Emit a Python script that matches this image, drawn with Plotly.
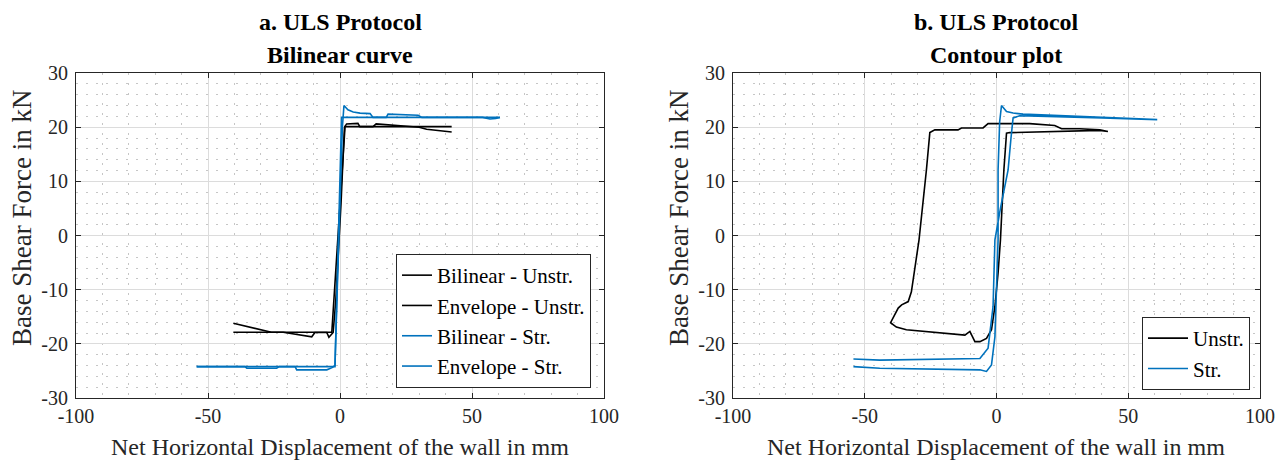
import plotly.graph_objects as go

# ---------------- data ----------------
x_ticks = [-100, -50, 0, 50, 100]
x_tick_labels = ["-100", "-50", "0", "50", "100"]
y_ticks = [-30, -20, -10, 0, 10, 20, 30]
y_tick_labels = ["-30", "-20", "-10", "0", "10", "20", "30"]

# (a) Bilinear curves
bil_unstr_x = [-40.4, -3.1, 1.9, 42.3]
bil_unstr_y = [-17.85, -17.85, 20.1, 20.1]
bil_str_x = [-54.3, -1.9, 0.6, 60.6]
bil_str_y = [-24.2, -24.2, 21.8, 21.8]

# (a) Envelopes
env_unstr_x = [-40.4, -29.0, -26.0, -21.5, -10.7, -9.5, -5.0, -4.2, -2.6, -1.6, -0.6, 0.4, 1.3, 1.7, 2.5, 6.8, 7.5, 12.5, 13.7, 25.1, 30.0, 32.8, 42.3]
env_unstr_y = [-16.2, -17.4, -17.85, -17.85, -18.7, -17.9, -17.9, -18.8, -17.9, -12.0, -4.0, 6.0, 16.0, 20.0, 20.6, 20.7, 20.1, 20.1, 20.6, 20.1, 20.0, 19.6, 19.1]
env_str_x = [-54.3, -36.0, -35.3, -24.0, -23.0, -17.0, -16.4, -5.0, -3.0, -1.9, -1.3, -0.5, 0.3, 0.9, 1.5, 3.0, 5.0, 7.6, 11.4, 12.5, 17.5, 18.2, 29.6, 31.0, 54.0, 56.8, 59.0, 60.6]
env_str_y = [-24.2, -24.2, -24.5, -24.5, -24.2, -24.2, -24.8, -24.8, -24.4, -24.0, -14.0, -2.0, 10.0, 20.0, 24.0, 23.2, 22.8, 22.6, 22.5, 21.8, 21.8, 22.4, 22.2, 21.8, 21.8, 21.5, 21.6, 21.8]

# (b) Contour plots
cont_unstr_x = [42.3, 39.2, 31.6, 24.7, 22.1, 15.2, 12.6, -3.2, -5.1, -13.3, -14.6, -23.4, -25.3, -26.6, -29.4, -32.3, -33.5, -36.0, -37.3, -40.2,
                -38.0, -34.2, -24.1, -12.0, -10.1, -8.2, -6.3, -3.8, -1.9, -0.6, 0.6, 1.5, 2.8, 3.8, 5.0, 39.2, 42.3]
cont_unstr_y = [19.2, 19.5, 19.7, 19.7, 20.3, 20.5, 20.65, 20.65, 19.85, 19.85, 19.5, 19.5, 19.0, 12.1, -0.8, -10.4, -12.2, -12.8, -13.4, -16.1,
                -16.9, -17.4, -17.9, -18.4, -17.7, -19.6, -19.6, -19.0, -17.4, -13.1, -6.9, -0.8, 12.1, 18.9, 19.0, 19.4, 19.2]
cont_str_x = [-54.3, -44.3, -6.3, -3.2, -1.3, -0.6, 1.5, 4.4, 5.5, 6.3, 8.8, 20.0, 40.0, 61.0,
              40.0, 20.0, 10.0, 6.3, 3.8, 1.9, 1.2, 0.6, 0.6, -0.6, -1.9, -3.8, -6.3, -44.3, -54.3]
cont_str_y = [-22.8, -23.0, -22.7, -20.8, -13.1, -0.8, 5.0, 12.1, 18.0, 21.7, 22.1, 22.0, 21.7, 21.4,
              21.8, 22.2, 22.4, 22.6, 22.9, 24.0, 21.0, 12.1, -0.8, -18.7, -23.9, -25.1, -24.8, -24.5, -24.2]

# ---------------- style ----------------
W, H = 1279, 460
FONT = "Liberation Serif, Times New Roman, serif"
BLACK = "#000000"
BLUE = "#0072BD"
AX = "#262626"

fig = go.Figure()

def line(x, y, name, color, xa, ya, leg):
    fig.add_trace(go.Scatter(x=x, y=y, mode="lines", name=name,
                             line=dict(color=color, width=1.6),
                             xaxis=xa, yaxis=ya, legend=leg))

line(bil_unstr_x, bil_unstr_y, "Bilinear - Unstr.", BLACK, "x", "y", "legend")
line(env_unstr_x, env_unstr_y, "Envelope - Unstr.", BLACK, "x", "y", "legend")
line(bil_str_x, bil_str_y, "Bilinear - Str.", BLUE, "x", "y", "legend")
line(env_str_x, env_str_y, "Envelope - Str.", BLUE, "x", "y", "legend")
line(cont_unstr_x, cont_unstr_y, "Unstr.", BLACK, "x2", "y2", "legend2")
line(cont_str_x, cont_str_y, "Str.", BLUE, "x2", "y2", "legend2")

def px(v):
    return v / W

def py(v):
    return 1 - v / H

top, bot = 73, 398
L1, R1 = 76, 604
L2, R2 = 733, 1260

MINOR_COLOR = "#c6c6c6"
MINOR_DASH = "2px,8px"

def xaxis(dom):
    return dict(domain=[px(dom[0]), px(dom[1])], range=[-100, 100],
                tickmode="array", tickvals=x_ticks, ticktext=x_tick_labels,
                showline=True, linecolor=AX, linewidth=1, mirror="allticks",
                ticks="inside", ticklen=5, tickcolor=AX,
                showgrid=True, gridcolor="#dcdcdc", gridwidth=1, zeroline=False,
                tickfont=dict(family=FONT, size=20, color=AX),
                minor=dict(tick0=0, dtick=10, showgrid=True, gridcolor=MINOR_COLOR,
                           griddash=MINOR_DASH, gridwidth=1, ticks=""),
                automargin=False, fixedrange=True)

def yaxis(anchor):
    return dict(domain=[py(bot), py(top)], range=[-30, 30], anchor=anchor,
                tickmode="array", tickvals=y_ticks, ticktext=y_tick_labels,
                showline=True, linecolor=AX, linewidth=1, mirror="allticks",
                ticks="inside", ticklen=5, tickcolor=AX, ticklabelstandoff=3,
                showgrid=True, gridcolor="#dcdcdc", gridwidth=1, zeroline=False,
                tickfont=dict(family=FONT, size=20, color=AX),
                minor=dict(tick0=0, dtick=2, showgrid=True, gridcolor=MINOR_COLOR,
                           griddash=MINOR_DASH, gridwidth=1, ticks=""),
                automargin=False, fixedrange=True)

xa1 = xaxis((L1, R1)); xa1["anchor"] = "y"
xa2 = xaxis((L2, R2)); xa2["anchor"] = "y2"

annotations = []
def text(t, x, y, size, bold=False, angle=0, color=AX):
    annotations.append(dict(text=("<b>%s</b>" % t) if bold else t, x=px(x), y=py(y),
                            xref="paper", yref="paper", showarrow=False,
                            xanchor="center", yanchor="middle", textangle=angle,
                            font=dict(family=FONT, size=size, color=color)))

c1 = (L1 + R1) / 2
c2 = (L2 + R2) / 2
text("a. ULS Protocol", c1, 22, 24, bold=True, color=BLACK)
text("Bilinear curve", c1, 55, 24, bold=True, color=BLACK)
text("b. ULS Protocol", c2, 22, 24, bold=True, color=BLACK)
text("Contour plot", c2, 55, 24, bold=True, color=BLACK)
text("Net Horizontal Displacement of the wall in mm", c1, 447, 24)
text("Net Horizontal Displacement of the wall in mm", c2, 447, 24)
text("Base Shear Force in kN", 22, 218, 27, angle=-90)
text("Base Shear Force in kN", L2 - 54, 218, 27, angle=-90)

fig.update_layout(
    width=W, height=H, margin=dict(l=0, r=0, t=0, b=0),
    paper_bgcolor="white", plot_bgcolor="white",
    xaxis=xa1, yaxis=yaxis("x"), xaxis2=xa2, yaxis2=yaxis("x2"),
    annotations=annotations,
    showlegend=True,
    legend=dict(x=px(591), y=py(388), xanchor="right", yanchor="bottom",
                bordercolor=AX, borderwidth=1, bgcolor="white",
                font=dict(family=FONT, size=21, color=BLACK), tracegroupgap=0,
                itemwidth=30),
    legend2=dict(x=px(1250), y=py(390), xanchor="right", yanchor="bottom",
                 bordercolor=AX, borderwidth=1, bgcolor="white",
                 font=dict(family=FONT, size=21, color=BLACK), tracegroupgap=0,
                 itemwidth=40),
)

fig.write_html("out.html")
